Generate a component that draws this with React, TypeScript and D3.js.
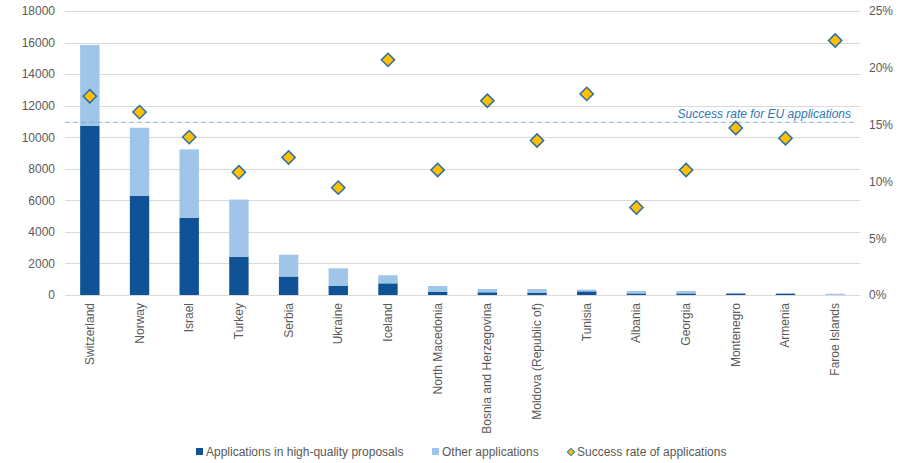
import React, { useEffect, useRef } from 'react';
import * as d3 from 'd3';

const countries = [
  'Switzerland', 'Norway', 'Israel', 'Turkey', 'Serbia', 'Ukraine', 'Iceland',
  'North Macedonia', 'Bosnia and Herzegovina', 'Moldova (Republic of)', 'Tunisia',
  'Albania', 'Georgia', 'Montenegro', 'Armenia', 'Faroe Islands',
];
const highQuality = [10730, 6300, 4900, 2430, 1170, 570, 740, 210, 170, 150, 230, 100, 100, 100, 90, 10];
const otherApps = [5120, 4300, 4330, 3620, 1380, 1120, 510, 360, 210, 230, 110, 150, 150, 30, 30, 70];
const successRate = [17.5, 16.1, 13.9, 10.8, 12.1, 9.45, 20.7, 11.0, 17.1, 13.6, 17.7, 7.7, 11.0, 14.7, 13.8, 22.4];
const euRate = 15.2;
const leftTicks = [0, 2000, 4000, 6000, 8000, 10000, 12000, 14000, 16000, 18000];
const rightTicks = [0, 5, 10, 15, 20, 25];
const legendItems = ['Applications in high-quality proposals', 'Other applications', 'Success rate of applications'];

const DARK = '#0f5396';
const LIGHT = '#9fc5e8';
const GOLD = '#ffc000';
const EDGE = '#2e6da4';
const FONT = '"Liberation Sans", Arial, sans-serif';

function App() {
  const ref = useRef(null);

  useEffect(() => {
    const root = d3.select(ref.current);
    root.selectAll('*').remove();

    const W = 909, H = 463;
    const left = 65, right = 860, top = 11, bottom = 295;

    const svg = root.append('svg')
      .attr('width', W).attr('height', H)
      .style('position', 'absolute').style('left', 0).style('top', 0)
      .style('font-family', FONT);

    const x = d3.scaleBand().domain(countries).range([left, right]).paddingInner(0.61).paddingOuter(0.305);
    const y = d3.scaleLinear().domain([0, 18000]).range([bottom, top]);
    const y2 = d3.scaleLinear().domain([0, 25]).range([bottom, top]);

    // grid
    svg.append('g').selectAll('line').data(leftTicks).enter().append('line')
      .attr('x1', left).attr('x2', right)
      .attr('y1', (d) => Math.round(y(d)) + 0.5).attr('y2', (d) => Math.round(y(d)) + 0.5)
      .attr('stroke', '#d9d9d9').attr('stroke-width', 1);

    // left axis
    svg.append('g').attr('transform', `translate(${left - 10},0)`)
      .call(d3.axisLeft(y).tickValues(leftTicks).tickSize(0).tickPadding(0).tickFormat(d3.format('d')))
      .call((g) => g.select('.domain').remove())
      .call((g) => g.selectAll('text').attr('fill', '#595959').style('font-size', '12px').style('font-family', FONT));

    // right axis
    svg.append('g').attr('transform', `translate(${right + 9},0)`)
      .call(d3.axisRight(y2).tickValues(rightTicks).tickSize(0).tickPadding(0).tickFormat((d) => `${d}%`))
      .call((g) => g.select('.domain').remove())
      .call((g) => g.selectAll('text').attr('fill', '#595959').style('font-size', '12px').style('font-family', FONT));

    // bars
    const stacked = countries.map((c, i) => ({ c, hq: highQuality[i], other: otherApps[i] }));
    svg.append('g').selectAll('rect').data(stacked).enter().append('rect')
      .attr('x', (d) => x(d.c)).attr('width', x.bandwidth())
      .attr('y', (d) => y(d.hq)).attr('height', (d) => y(0) - y(d.hq))
      .attr('fill', DARK);
    svg.append('g').selectAll('rect').data(stacked).enter().append('rect')
      .attr('x', (d) => x(d.c)).attr('width', x.bandwidth())
      .attr('y', (d) => y(d.hq + d.other)).attr('height', (d) => y(d.hq) - y(d.hq + d.other))
      .attr('fill', LIGHT);

    // EU rate line
    svg.append('line')
      .attr('x1', left).attr('x2', right - 5)
      .attr('y1', y2(euRate)).attr('y2', y2(euRate))
      .attr('stroke', '#7fb4e3').attr('stroke-width', 1).attr('stroke-dasharray', '5,3');
    svg.append('text')
      .attr('x', right - 9).attr('y', y2(euRate) - 4)
      .attr('text-anchor', 'end').attr('fill', '#2e75b6')
      .style('font-size', '12px').style('font-style', 'italic')
      .text('Success rate for EU applications');

    // markers
    const diamond = d3.symbol().type(d3.symbolSquare).size(88);
    svg.append('g').selectAll('path').data(countries).enter().append('path')
      .attr('d', diamond)
      .attr('transform', (d, i) => `translate(${x(d) + x.bandwidth() / 2},${y2(successRate[i])}) rotate(45)`)
      .attr('fill', GOLD).attr('stroke', EDGE).attr('stroke-width', 1.5);

    // category labels
    svg.append('g').selectAll('text').data(countries).enter().append('text')
      .attr('transform', (d) => `translate(${x(d) + x.bandwidth() / 2 + 4},${bottom + 8}) rotate(-90)`)
      .attr('text-anchor', 'end').attr('fill', '#595959')
      .style('font-size', '12px')
      .text((d) => d);

    // legend
    const ly = 452;
    const lg = svg.append('g');
    const starts = [196, 432, 567];
    legendItems.forEach((t, i) => {
      const sx = starts[i];
      if (i < 2) {
        lg.append('rect').attr('x', sx).attr('y', ly - 4).attr('width', 7).attr('height', 7)
          .attr('fill', i === 0 ? DARK : LIGHT);
      } else {
        lg.append('path').attr('d', d3.symbol().type(d3.symbolSquare).size(26))
          .attr('transform', `translate(${sx + 4},${ly}) rotate(45)`)
          .attr('fill', GOLD).attr('stroke', EDGE).attr('stroke-width', 1);
      }
      lg.append('text').attr('x', sx + 10).attr('y', ly + 4)
        .attr('fill', '#595959').style('font-size', '12px').text(t);
    });
  }, []);

  return <div ref={ref} />;
}

export default App;
